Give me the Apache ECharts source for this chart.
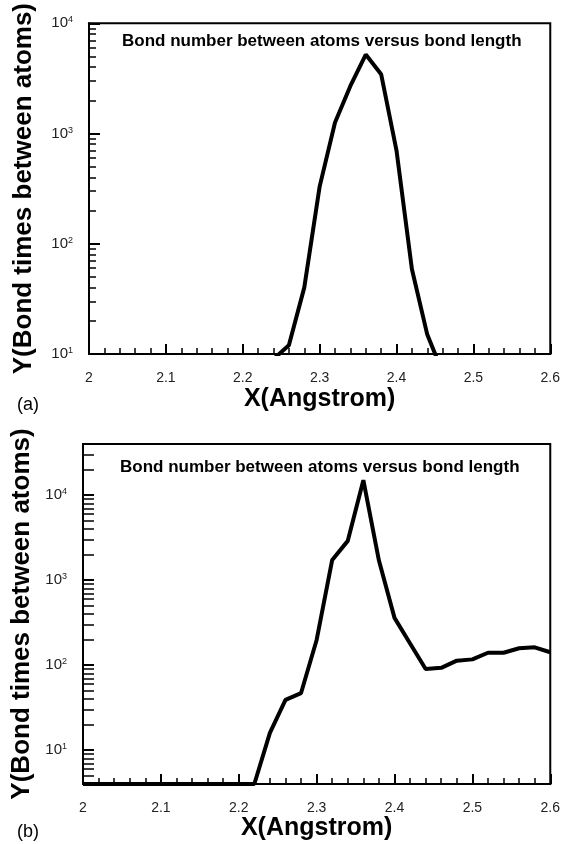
<!DOCTYPE html>
<html>
<head>
<meta charset="utf-8">
<script src="https://cdn.jsdelivr.net/npm/echarts@6/dist/echarts.min.js"></script>
<style>
  html, body { margin: 0; padding: 0; background: #fff; }
  #main { width: 563px; height: 844px; }
</style>
</head>
<body>
<div id="main"></div>
<script>
// panel (a)
const xA = [2.24, 2.26, 2.28, 2.30, 2.32, 2.34, 2.36, 2.38, 2.40, 2.42, 2.44, 2.46];
const yA = [9, 12, 40, 330, 1260, 2700, 5200, 3450, 700, 59, 15, 6.8];

// panel (b)
const xB = [2.00, 2.02, 2.04, 2.06, 2.08, 2.10, 2.12, 2.14, 2.16, 2.18, 2.20, 2.22,
  2.24, 2.26, 2.28, 2.30, 2.32, 2.34, 2.36, 2.38, 2.40, 2.42, 2.44, 2.46,
  2.48, 2.50, 2.52, 2.54, 2.56, 2.58, 2.60];
const yB = [4, 4, 4, 4, 4, 4, 4, 4, 4, 4, 4, 4,
  16, 39, 47, 198, 1730, 2900, 15000, 1700, 360, 180, 90, 93,
  113, 117, 140, 140, 158, 162, 142];

const yMajor = [10, 100, 1000, 10000];
const yMinorA = [20, 30, 40, 50, 60, 70, 80, 90, 200, 300, 400, 500, 600, 700, 800, 900,
  2000, 3000, 4000, 5000, 6000, 7000, 8000, 9000];
const yMinorB = [4, 5, 6, 7, 8, 9].concat(yMinorA, [20000, 30000]);

const titleText = 'Bond number between atoms versus bond length';
const xName = 'X(Angstrom)';
const yName = 'Y(Bond times between atoms)';

const FONT = 'Liberation Sans';

const chart = echarts.init(document.getElementById('main'));

function pair(arrX, arrY) {
  return arrX.map(function (x, i) { return [x, arrY[i]]; });
}

function xAxisCfg(gridIndex, gap) {
  return {
    type: 'value', gridIndex: gridIndex, min: 2, max: 2.6, interval: 0.1,
    name: xName, nameLocation: 'middle', nameGap: gap,
    nameTextStyle: { fontFamily: FONT, fontWeight: 'bold', fontSize: 25, color: '#000' },
    axisLine: { show: true, onZero: false, lineStyle: { color: '#000', width: 2 } },
    axisTick: { show: true, inside: true, length: 10, lineStyle: { color: '#000', width: 2 } },
    minorTick: { show: true, splitNumber: 5, length: 6, lineStyle: { color: '#000', width: 1.5 } },
    axisLabel: {
      margin: 17, fontFamily: FONT, fontSize: 14, color: '#222',
      formatter: function (v) { return String(+v.toFixed(1)); }
    },
    splitLine: { show: false }
  };
}

function yMajorCfg(gridIndex, min, max, gap) {
  return {
    type: 'log', gridIndex: gridIndex, min: min, max: max, position: 'left',
    name: yName, nameLocation: 'middle', nameGap: gap, nameRotate: 90,
    nameTextStyle: { fontFamily: FONT, fontWeight: 'bold', fontSize: 26, color: '#000' },
    axisLine: { show: true, onZero: false, lineStyle: { color: '#000', width: 2 } },
    axisTick: { show: true, inside: true, length: 11, customValues: yMajor,
      lineStyle: { color: '#000', width: 2 } },
    axisLabel: {
      margin: 16, customValues: yMajor,
      formatter: function (v) {
        return '{b|10}{s|' + Math.round(Math.log10(v)) + '}';
      },
      rich: {
        b: { fontFamily: FONT, fontSize: 15, color: '#222', lineHeight: 16 },
        s: { fontFamily: FONT, fontSize: 9, color: '#222', lineHeight: 16, verticalAlign: 'top' }
      }
    },
    splitLine: { show: false }
  };
}

function yMinorCfg(gridIndex, min, max, ticks, len) {
  return {
    type: 'log', gridIndex: gridIndex, min: min, max: max, position: 'left',
    axisLine: { show: false },
    axisTick: { show: true, inside: true, length: len, customValues: ticks,
      lineStyle: { color: '#000', width: 1.5 } },
    axisLabel: { show: false },
    splitLine: { show: false }
  };
}

const option = {
  backgroundColor: '#fff',
  animation: false,
  title: [
    { text: titleText, left: 117, top: 28,
      textStyle: { fontFamily: FONT, fontWeight: 'bold', fontSize: 17, color: '#000' } },
    { text: titleText, left: 115, top: 454,
      textStyle: { fontFamily: FONT, fontWeight: 'bold', fontSize: 17, color: '#000' } },
    { text: '(a)', left: 12, top: 391,
      textStyle: { fontFamily: FONT, fontWeight: 'normal', fontSize: 18, color: '#000' } },
    { text: '(b)', left: 12, top: 818,
      textStyle: { fontFamily: FONT, fontWeight: 'normal', fontSize: 18, color: '#000' } }
  ],
  grid: [
    { left: 89, top: 20, width: 463, height: 334, show: true,
      borderColor: '#000', borderWidth: 2, backgroundColor: 'transparent' },
    { left: 83, top: 444, width: 470, height: 340, show: true,
      borderColor: '#000', borderWidth: 2, backgroundColor: 'transparent' }
  ],
  xAxis: [xAxisCfg(0, 33), xAxisCfg(1, 30)],
  yAxis: [
    yMajorCfg(0, 10, 10000, 52),
    yMinorCfg(0, 10, 10000, yMinorA, 7),
    yMajorCfg(1, 4, 40000, 46),
    yMinorCfg(1, 4, 40000, yMinorB, 11)
  ],
  series: [
    { type: 'line', xAxisIndex: 0, yAxisIndex: 0, data: pair(xA, yA),
      showSymbol: false, clip: true,
      lineStyle: { color: '#000', width: 4 } },
    { type: 'line', xAxisIndex: 1, yAxisIndex: 2, data: pair(xB, yB),
      showSymbol: false, clip: true,
      lineStyle: { color: '#000', width: 4 } }
  ]
};

chart.setOption(option);
</script>
</body>
</html>
